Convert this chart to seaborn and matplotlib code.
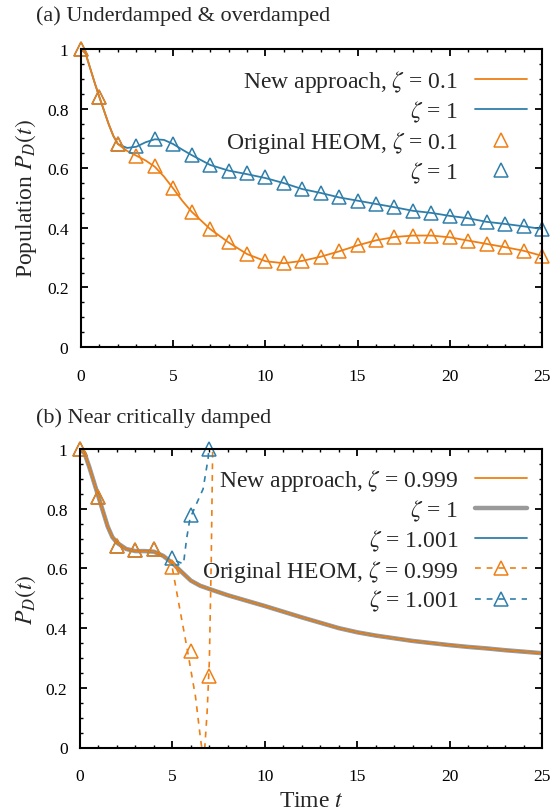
import matplotlib
matplotlib.use("Agg")
import matplotlib.pyplot as plt
from matplotlib.lines import Line2D
from matplotlib.ticker import MultipleLocator, FuncFormatter
import numpy as np
import pandas as pd
import seaborn as sns

# -- (a) underdamped / overdamped
t_int = list(range(26))
heom_z01 = [1.0, 0.838, 0.681, 0.642, 0.608, 0.532, 0.454, 0.396, 0.351, 0.312,
            0.288, 0.282, 0.29, 0.303, 0.321, 0.342, 0.359, 0.370, 0.374, 0.374,
            0.368, 0.357, 0.346, 0.335, 0.323, 0.306]
heom_z1 = [1.0, 0.838, 0.681, 0.673, 0.698, 0.681, 0.644, 0.611, 0.592, 0.583,
           0.569, 0.55, 0.53, 0.517, 0.502, 0.491, 0.48, 0.469, 0.457, 0.45,
           0.44, 0.432, 0.42, 0.413, 0.405, 0.396]

t_line = [0, 0.25, 0.5, 0.75, 1, 1.25, 1.5, 1.75, 2, 2.5, 3, 3.5, 4, 4.5, 5, 5.5, 6,
          7, 8, 9, 10, 11, 12, 13, 14, 15, 16, 17, 18, 19, 20, 21, 22, 23, 24, 25]
new_z01 = [1.0, 0.985, 0.935, 0.885, 0.838, 0.793, 0.748, 0.709, 0.681, 0.658,
           0.642, 0.626, 0.605, 0.572, 0.532, 0.49, 0.454, 0.396, 0.351, 0.312,
           0.288, 0.281, 0.289, 0.303, 0.321, 0.341, 0.358, 0.369, 0.374, 0.374,
           0.368, 0.357, 0.346, 0.335, 0.323, 0.306]
new_z1 = [1.0, 0.985, 0.935, 0.885, 0.838, 0.793, 0.748, 0.709, 0.681, 0.668,
          0.672, 0.687, 0.697, 0.695, 0.681, 0.662, 0.644, 0.611, 0.592, 0.58,
          0.567, 0.55, 0.53, 0.517, 0.502, 0.491, 0.48, 0.469, 0.457, 0.45,
          0.44, 0.432, 0.42, 0.413, 0.405, 0.396]

# -- (b) near critically damped (the three new-approach curves coincide)
t_crit = [0, 0.25, 0.5, 0.75, 1, 1.25, 1.5, 1.75, 2, 2.5, 3, 3.5, 4, 4.5, 5, 5.5, 6,
          6.5, 7, 8, 9, 10, 11, 12, 13, 14, 15, 16, 17, 18, 19, 20, 21, 22, 23, 24, 25]
new_crit = [1.0, 0.985, 0.94, 0.89, 0.84, 0.79, 0.74, 0.705, 0.686, 0.665, 0.658,
            0.658, 0.656, 0.642, 0.618, 0.588, 0.559, 0.542, 0.531, 0.51, 0.492,
            0.474, 0.455, 0.436, 0.418, 0.40, 0.386, 0.375, 0.366, 0.357, 0.35,
            0.343, 0.337, 0.332, 0.326, 0.321, 0.316]

t_heom_b = [0, 1, 2, 3, 4, 5, 6, 7]
heom_z0999 = [1.0, 0.84, 0.676, 0.66, 0.665, 0.604, 0.324, 0.24]
heom_z1001 = [1.0, 0.84, 0.676, 0.66, 0.665, 0.634, 0.78, 1.0]

t_dash_0999 = [5.0, 5.4, 5.8, 6.25, 6.52, 6.7, 6.88, 7.0, 7.1, 7.2]
dash_0999 = [0.60, 0.464, 0.33, 0.17, 0.03, -0.05, 0.12, 0.29, 0.62, 1.1]
t_dash_1001 = [5.2, 5.6, 5.77, 5.95, 6.3, 6.66, 6.93, 7.1]
dash_1001 = [0.625, 0.615, 0.70, 0.767, 0.816, 0.866, 0.967, 1.1]

ORANGE = "#EE7F14"
BLUE = "#2F7FAA"
GRAY = "#9A9A9A"
BIG = 17

sns.set_theme(style="ticks")
plt.rcParams.update({
    "font.family": ["Liberation Serif", "DejaVu Serif"],
    "mathtext.fontset": "stix",
    "font.size": 12.5,
    "axes.linewidth": 1.5,
    "xtick.direction": "in", "ytick.direction": "in",
    "xtick.top": True, "ytick.right": True,
    "xtick.major.size": 5, "ytick.major.size": 5,
    "xtick.minor.size": 2.5, "ytick.minor.size": 2.5,
    "xtick.major.width": 1.3, "ytick.major.width": 1.3,
    "xtick.minor.width": 1.0, "ytick.minor.width": 1.0,
    "xtick.color": "black", "ytick.color": "black",
    "xtick.labelsize": 12.5, "ytick.labelsize": 12.5,
    "axes.edgecolor": "black",
})

fig = plt.figure(figsize=(5.53, 8.12), dpi=100)
ax_a = fig.add_axes([81 / 553, 1 - 348 / 812, 461 / 553, 298 / 812])
ax_b = fig.add_axes([80 / 553, 1 - 748.5 / 812, 462 / 553, 298.5 / 812])

mk = dict(marker="^", linestyle="", markersize=10.5, markerfacecolor="none",
          markeredgewidth=1.1, clip_on=False)

# panel (a)
sns.lineplot(x=t_line, y=new_z1, ax=ax_a, color=BLUE, lw=1.3, sort=False)
sns.lineplot(x=t_line, y=new_z01, ax=ax_a, color=ORANGE, lw=1.3, sort=False)
ax_a.plot(t_int, heom_z1, markeredgecolor=BLUE, zorder=4, **mk)
ax_a.plot(t_int, heom_z01, markeredgecolor=ORANGE, zorder=5, **mk)

# panel (b)
sns.lineplot(x=t_crit, y=new_crit, ax=ax_b, color=GRAY, lw=3.2, sort=False)
sns.lineplot(x=t_crit, y=new_crit, ax=ax_b, color=BLUE, lw=1.3, sort=False)
sns.lineplot(x=t_crit, y=new_crit, ax=ax_b, color=ORANGE, lw=1.3, sort=False)
ax_b.plot(t_dash_1001, dash_1001, color=BLUE, lw=1.2, dashes=(3.5, 3.5), zorder=3)
ax_b.plot(t_dash_0999, dash_0999, color=ORANGE, lw=1.2, dashes=(3.5, 3.5), zorder=3)
ax_b.plot(t_heom_b, heom_z1001, markeredgecolor=BLUE, zorder=4, **mk)
ax_b.plot(t_heom_b, heom_z0999, markeredgecolor=ORANGE, zorder=5, **mk)

fmt = FuncFormatter(lambda v, p: f"{v:g}")
for ax in (ax_a, ax_b):
    ax.set_xlim(0, 25)
    ax.set_ylim(0, 1)
    ax.xaxis.set_major_locator(MultipleLocator(5))
    ax.xaxis.set_minor_locator(MultipleLocator(1))
    ax.yaxis.set_major_locator(MultipleLocator(0.2))
    ax.yaxis.set_minor_locator(MultipleLocator(0.05))
    ax.yaxis.set_major_formatter(fmt)
    ax.tick_params(axis="x", which="both", pad=15)
    ax.tick_params(axis="y", which="both", pad=9)
    for s in ax.spines.values():
        s.set_visible(True)
        s.set_zorder(6)

ax_a.set_ylabel("Population $P_D(t)$", fontsize=BIG, labelpad=6)
ax_b.set_ylabel("$P_D(t)$", fontsize=BIG, labelpad=6)
ax_a.set_xlabel("")
ax_b.set_xlabel("Time $t$", fontsize=BIG, labelpad=4)

fig.text(36 / 553, 1 - 16 / 812, "(a) Underdamped & overdamped", ha="left", va="center",
         fontsize=16)
fig.text(36 / 553, 1 - 418 / 812, "(b) Near critically damped", ha="left", va="center",
         fontsize=16)


def right_legend(ax, handles, labels, anchor):
    leg = ax.legend(handles, labels, loc="upper right", bbox_to_anchor=anchor,
                    frameon=False, markerfirst=False, handlelength=2.2,
                    handletextpad=0.7, labelspacing=0.2, borderaxespad=0,
                    borderpad=0, fontsize=BIG, numpoints=1)
    for col in leg._legend_handle_box.get_children():
        col.align = "right"
    return leg


za = [Line2D([], [], color=ORANGE, lw=1.3),
      Line2D([], [], color=BLUE, lw=1.3),
      Line2D([], [], marker="^", ls="", ms=10.5, mfc="none", mec=ORANGE, mew=1.1),
      Line2D([], [], marker="^", ls="", ms=10.5, mfc="none", mec=BLUE, mew=1.1)]
right_legend(ax_a, za, ["New approach, $\\zeta$ = 0.1", "$\\zeta$ = 1",
                        "Original HEOM, $\\zeta$ = 0.1", "$\\zeta$ = 1"], (0.967, 0.935))

zb = [Line2D([], [], color=ORANGE, lw=1.3),
      Line2D([], [], color=GRAY, lw=3.2),
      Line2D([], [], color=BLUE, lw=1.3),
      Line2D([], [], color=ORANGE, lw=1.2, dashes=(3.5, 3.5), marker="^", ms=10.5,
             mfc="none", mec=ORANGE, mew=1.1),
      Line2D([], [], color=BLUE, lw=1.2, dashes=(3.5, 3.5), marker="^", ms=10.5,
             mfc="none", mec=BLUE, mew=1.1)]
right_legend(ax_b, zb, ["New approach, $\\zeta$ = 0.999", "$\\zeta$ = 1", "$\\zeta$ = 1.001",
                        "Original HEOM, $\\zeta$ = 0.999", "$\\zeta$ = 1.001"], (0.967, 0.94))

fig.savefig("out.png", dpi=100)
